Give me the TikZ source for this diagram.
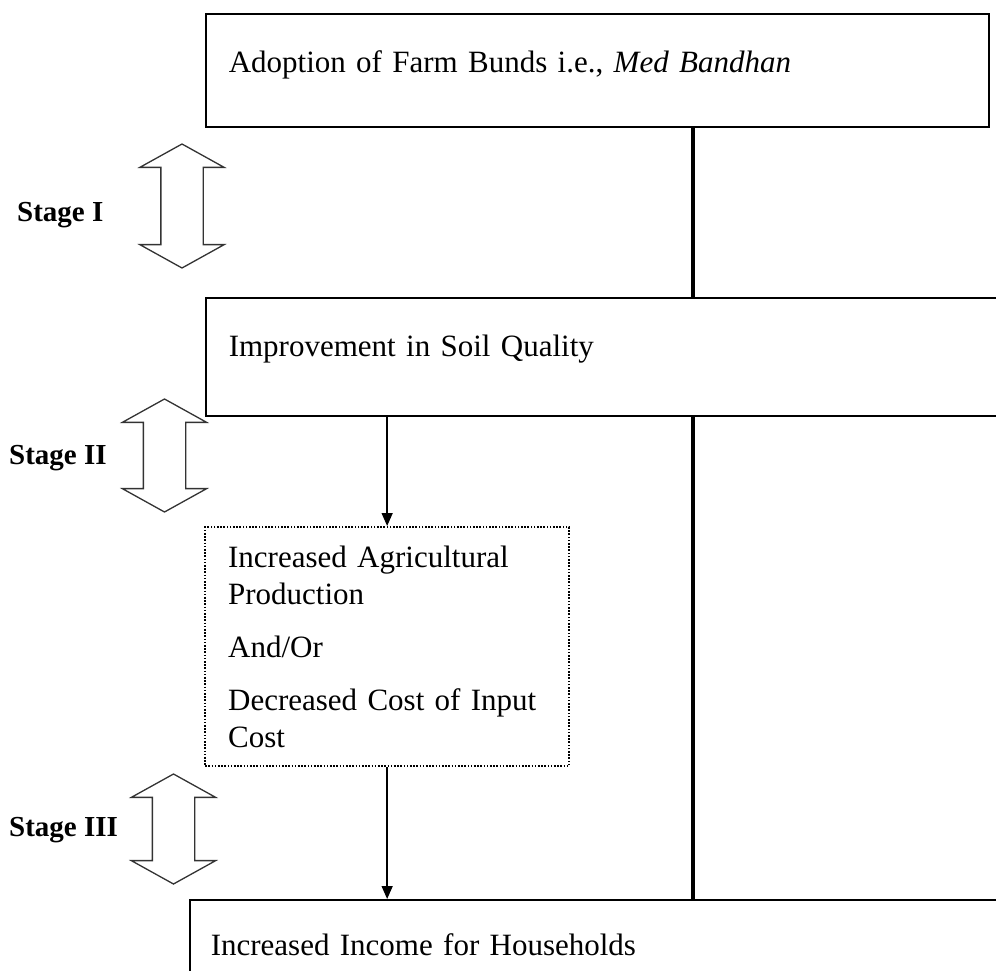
\documentclass[tikz,border=0pt]{standalone}
\usepackage{fontspec}
\setmainfont{Liberation Serif}
\usetikzlibrary{arrows.meta,positioning,shapes.arrows,calc}
\tikzset{
  fw/box/.style={draw, line width=1.6pt, align=left, inner xsep=23pt, inner ysep=0pt, anchor=north west, font=\fontsize{31}{37}\selectfont},
  fw/dotbox/.style={fw/box, line width=2.3pt, dash pattern=on 1.6pt off 1.6pt},
  fw/spine/.style={line width=3.6pt},
  fw/arr/.style={line width=1.4pt, -{Triangle[length=13pt,width=11pt]}},
  fw/updown/.style={double arrow, draw=black!80, line width=1.3pt, rotate=90, minimum width=83pt, double arrow head extend=21pt, double arrow tip angle=122, inner xsep=0pt, inner ysep=20.5pt},
  fw/stage/.style={anchor=west, inner sep=0pt, font=\fontsize{29}{34}\selectfont\bfseries}
}

\begin{document}
\begin{tikzpicture}[x=1pt, y=-1pt]
  \clip (0,0) rectangle (996,971);
  % boxes
  \node[fw/box, text width=737pt, minimum height=113pt, text height=21pt, text depth=16pt] (adopt) at (205,13) {Adoption of Farm Bunds i.e., \textit{Med Bandhan}};
  \node[fw/box, text width=774pt, minimum height=118pt, text height=21pt, text depth=21pt] (soil) at (205,297) {Improvement in Soil Quality};
  \node[fw/dotbox, text width=318pt, minimum height=239pt] (crop) at (204,526) {Increased Agricultural\\ Production\\[16pt] And/Or\\[16pt] Decreased Cost of Input\\ Cost};
  \node[fw/box, text width=790pt, minimum height=98pt, inner xsep=21pt, text height=21pt, text depth=7pt] (income) at (189,899) {Increased Income for Households};
  % stages
  \node[fw/updown, minimum height=124pt] (arrI) at (182,206) {};
  \node[fw/updown, minimum height=113pt] (arrII) at (164.5,455.5) {};
  \node[fw/updown, minimum height=110pt] (arrIII) at (173.5,829) {};
  \node[fw/stage] (stI) at (17,215) {Stage I};
  \node[fw/stage] (stII) at (9,458) {Stage II};
  \node[fw/stage] (stIII) at (9,830) {Stage III};
  % links
  \coordinate (spine) at (693,0);
  \draw[fw/spine] (adopt.south -| spine) -- (soil.north -| spine);
  \draw[fw/spine] (soil.south -| spine) -- (income.north -| spine);
  \draw[fw/arr] (soil.south -| crop.north) -- (crop.north);
  \draw[fw/arr] (crop.south) -- (crop.south |- income.north);
\end{tikzpicture}
\end{document}
